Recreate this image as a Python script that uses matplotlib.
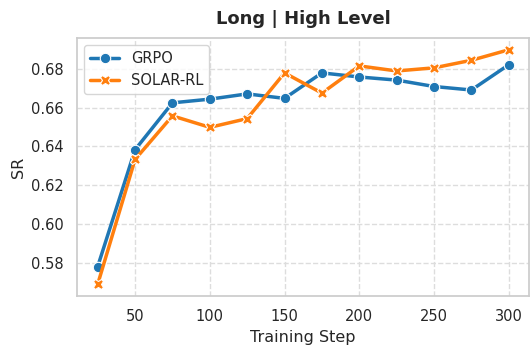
import matplotlib
matplotlib.use("Agg")
import matplotlib.pyplot as plt
import seaborn as sns

steps = [25, 50, 75, 100, 125, 150, 175, 200, 225, 250, 275, 300]
grpo = [0.5782, 0.6383, 0.6624, 0.6643, 0.6670, 0.6647, 0.6778, 0.6757, 0.6741, 0.6708, 0.6690, 0.6820]
solar = [0.5691, 0.6333, 0.6557, 0.6498, 0.6543, 0.6778, 0.6674, 0.6814, 0.6788, 0.6804, 0.6843, 0.6897]

sns.set_theme(style="whitegrid", context="notebook")
plt.rcParams.update({
    "grid.linestyle": "--",
    "grid.color": "#dddddd",
    "axes.edgecolor": "#cccccc",
    "xtick.labelsize": 10.5,
    "ytick.labelsize": 10.5,
    "axes.labelsize": 11.5,
})

fig = plt.figure(figsize=(5.32, 3.49), dpi=100)
ax = fig.add_axes([0.145, 0.152, 0.85, 0.739])

ax.plot(steps, grpo, color="#1f77b4", marker="o", markersize=7.5, markeredgecolor="white",
        markeredgewidth=0.8, linewidth=2.5, label="GRPO")
ax.plot(steps, solar, color="#ff7f0e", marker="X", markersize=7.5, markeredgecolor="white",
        markeredgewidth=0.8, linewidth=2.5, label="SOLAR-RL")

ax.set_xticks([50, 100, 150, 200, 250, 300])
ax.set_yticks([0.58, 0.60, 0.62, 0.64, 0.66, 0.68])
ax.set_xlabel("Training Step")
ax.set_ylabel("SR")
ax.set_title("Long | High Level", fontweight="bold", fontsize=13, pad=10)
ax.legend(loc="upper left", fontsize=10.5)

fig.savefig("out.png", dpi=100)
